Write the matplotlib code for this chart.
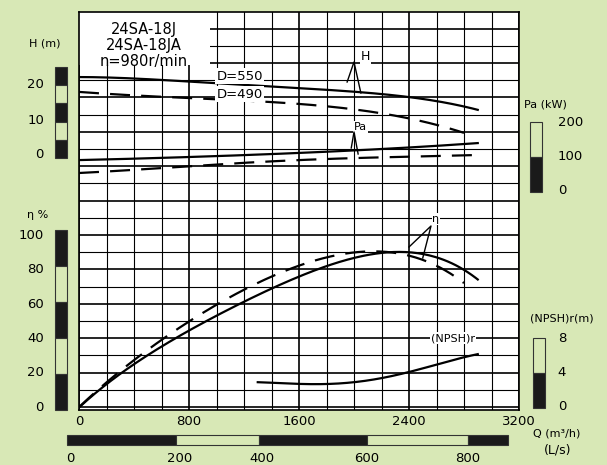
import matplotlib
matplotlib.use("Agg")
import matplotlib.pyplot as plt
import numpy as np
from matplotlib.patches import Rectangle

# ---- data (Q in m3/h) ----
q_h550 = [0, 800, 1600, 2400, 2900]
h550 = [22.3, 21.0, 19.1, 16.5, 12.8]
q_h490 = [0, 800, 1600, 2000, 2400, 2800]
h490 = [18.0, 16.2, 14.6, 12.8, 10.4, 6.1]
q_pa550 = [0, 800, 1600, 2400, 2900]
pa550 = [88, 97, 109, 125, 138]
q_pa490 = [0, 800, 1600, 2400, 2900]
pa490 = [50, 70, 88, 98, 103]
q_eta550 = [0, 400, 800, 1200, 1600, 2000, 2300, 2600, 2900]
eta550 = [0, 24, 45, 62, 75, 86, 91, 87, 74]
q_eta490 = [0, 400, 800, 1200, 1600, 2000, 2200, 2400, 2800]
eta490 = [0, 27, 50, 68, 82.5, 89, 91, 88, 72]
q_npsh = [1300, 1600, 2000, 2400, 2900]
npsh = [2.8, 2.6, 2.8, 4.0, 6.1]

def yH(v): return 154 - np.asarray(v) * 3.45
def yPa(v): return 190 - np.asarray(v) * 0.34
def yEta(v): return 407 - np.asarray(v) * 1.72
def yN(v): return 406 - np.asarray(v) * 8.5

def smooth(x, y, n=200):
    x = np.asarray(x, float); y = np.asarray(y, float)
    c = np.polyfit(x, y, min(len(x) - 1, 4))
    xs = np.linspace(x[0], x[-1], n)
    return xs, np.polyval(c, xs)

BG = "#d8e8b6"
fig = plt.figure(figsize=(6.07, 4.65), dpi=100, facecolor=BG)
W, H = 607, 465
L, R, T, B = 79, 519, 12, 410
ax = fig.add_axes([L / W, 1 - B / H, (R - L) / W, (B - T) / H])
ax.set_xlim(0, 3200); ax.set_ylim(B, T)
ax.set_facecolor("white")
for s in ax.spines.values():
    s.set_color("black"); s.set_linewidth(1.2)
ax.set_xticks([]); ax.set_yticks([])

for i, xg in enumerate(np.arange(0, 3201, 200)):
    ax.axvline(xg, color="black", lw=1.2 if i % 4 == 0 else 0.8, zorder=1)
for j, yg in enumerate(np.arange(407, T, -17.2)):
    ax.axhline(yg, color="black", lw=1.2 if j % 2 == 0 else 0.8, zorder=1)
ax.add_patch(Rectangle((0, T), 950, 53, facecolor="white", edgecolor="none", zorder=2))
ax.text(470, 22, "24SA-18J\n24SA-18JA\nn=980r/min", ha="center", va="top",
        fontsize=10.5, linespacing=1.1, zorder=3)

def curve(q, v, f, ls):
    xs, ys = smooth(q, v)
    ax.plot(xs, f(ys), color="black", lw=1.6, ls=ls, zorder=4,
            dashes=(9, 5) if ls == "--" else (None, None))

curve(q_h550, h550, yH, "-")
curve(q_h490, h490, yH, "--")
curve(q_pa550, pa550, yPa, "-")
curve(q_pa490, pa490, yPa, "--")
curve(q_eta550, eta550, yEta, "-")
curve(q_eta490, eta490, yEta, "--")
curve(q_npsh, npsh, yN, "-")

for txt, x, y in [("D=550", 1000, 76), ("D=490", 1000, 94)]:
    ax.text(x, y, txt, fontsize=9.5, va="center", zorder=5,
            bbox=dict(facecolor="white", edgecolor="none", pad=1))
ax.text(2050, 60, "H", fontsize=9, zorder=5, bbox=dict(facecolor="white", edgecolor="none", pad=0.5))
ax.plot([1950, 2000, 2050], [82, 62, 93], color="black", lw=1, zorder=5)
ax.text(2000, 130, "Pa", fontsize=8, zorder=5, bbox=dict(facecolor="white", edgecolor="none", pad=0.5))
ax.plot([1980, 2000, 2030], [148, 132, 154], color="black", lw=1, zorder=5)
ax.text(2570, 222, "η", fontsize=8, zorder=5, bbox=dict(facecolor="white", edgecolor="none", pad=0.5))
ax.plot([2400, 2560, 2500], [247, 226, 258], color="black", lw=1, zorder=5)
ax.text(2560, 341, "(NPSH)r", fontsize=8, zorder=5, bbox=dict(facecolor="white", edgecolor="none", pad=0.5))

ov = fig.add_axes([0, 0, 1, 1]); ov.set_xlim(0, W); ov.set_ylim(H, 0); ov.axis("off")
ov.patch.set_alpha(0)

def bar(x0, y0, y1, segs):
    h = (y1 - y0) / len(segs)
    for k, dark in enumerate(segs):
        ov.add_patch(Rectangle((x0, y0 + k * h), 12, h, facecolor="#1a1a1a" if dark else BG,
                               edgecolor="#333", lw=0.8))

bar(55, 67, 158, [1, 0, 1, 0, 1, 1][:0] + [1, 0, 1, 0, 1, 0][:0] + [1, 0, 1, 0, 1])
bar(530, 122, 192, [0, 1])
bar(55, 230, 410, [1, 0, 1, 0, 1])
bar(533, 338, 408, [0, 1])

fs = 9.5
for v, y in [(20, 85), (10, 120), (0, 154)]:
    ov.text(44, y, str(v), ha="right", va="center", fontsize=fs)
ov.text(45, 47, "H (m)", ha="center", fontsize=8)
for v, y in [(200, 122), (100, 156), (0, 190)]:
    ov.text(558, y, str(v), ha="left", va="center", fontsize=fs)
ov.text(545, 107, "Pa (kW)", ha="center", fontsize=8)
for v, y in [(100, 235), (80, 269), (60, 304), (40, 338), (20, 372), (0, 407)]:
    ov.text(44, y, str(v), ha="right", va="center", fontsize=fs)
ov.text(38, 218, "η %", ha="center", fontsize=8)
for v, y in [(8, 338), (4, 372), (0, 406)]:
    ov.text(562, y, str(v), ha="center", va="center", fontsize=fs)
ov.text(562, 321, "(NPSH)r(m)", ha="center", fontsize=8)
for v, x in [(0, 79), (800, 189), (1600, 299), (2400, 409), (3200, 519)]:
    ov.text(x, 421, str(v), ha="center", va="center", fontsize=fs)
ov.text(557, 433, "Q (m³/h)", ha="center", va="center", fontsize=8)
ov.text(558, 450, "(L/s)", ha="center", va="center", fontsize=9)

for x0, x1, dark in [(67, 176, 1), (176, 259, 0), (259, 367, 1), (367, 468, 0), (468, 508, 1)]:
    ov.add_patch(Rectangle((x0, 435), x1 - x0, 10, facecolor="#1a1a1a" if dark else BG,
                           edgecolor="#333", lw=0.8))
for v, x in [(0, 70), (200, 180), (400, 262), (600, 367), (800, 468)]:
    ov.text(x, 458, str(v), ha="center", va="center", fontsize=fs)

fig.savefig("out.png", dpi=100, facecolor=BG)
